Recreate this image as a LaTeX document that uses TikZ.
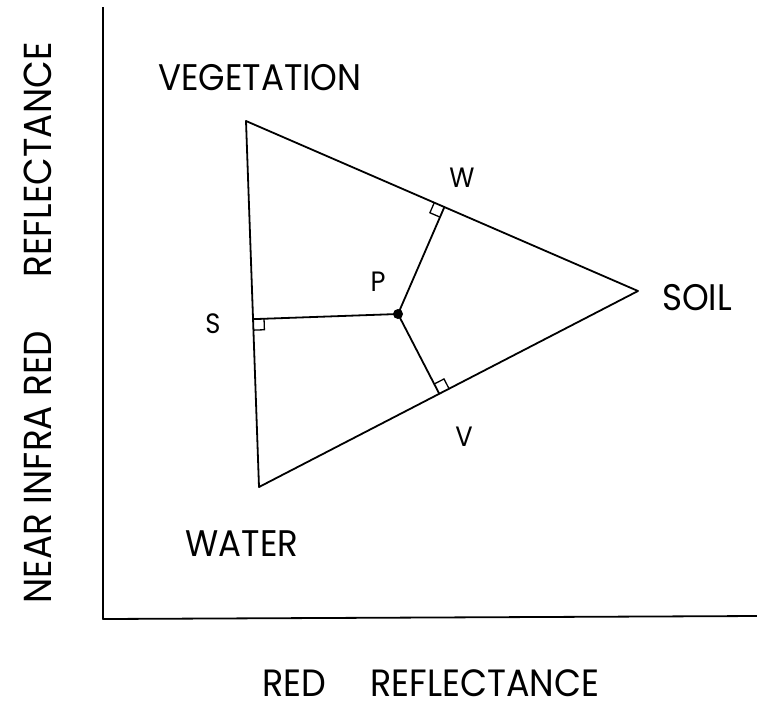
\documentclass[tikz,border=0pt]{standalone}
\usepackage{fontspec}
\setmainfont{Poppins}[FakeStretch=0.92]
\usetikzlibrary{calc}
\begin{document}
\begin{tikzpicture}[x=1pt,y=-1pt,
  ln/.style={line width=1.8pt, line join=round},
  big/.style={font=\fontsize{37}{37}\selectfont, inner sep=0pt},
  xlab/.style={font=\fontsize{38}{38}\selectfont, inner sep=0pt, text height=27pt, text depth=0pt, anchor=base},
  vbig/.style={font=\fontsize{39}{39}\selectfont, inner sep=0pt, rotate=90},
  small/.style={font=\fontsize{28}{28}\selectfont, inner sep=0pt},
  rt/.style={line width=1.3pt}]
\useasboundingbox (0,0) rectangle (757,710);
% axes
\coordinate (ytop) at (103,7);
\coordinate (orig) at (103,619);
\coordinate (xend) at (757,616);
\draw[ln] (ytop) -- (orig) -- (xend);
% triangle
\coordinate (veg) at (246,121);
\coordinate (soil) at (638,291);
\coordinate (wat) at (259,487);
\draw[ln] (veg) -- (soil) -- (wat) -- cycle;
% P and feet
\coordinate (P) at (398,314);
\coordinate (fw) at ($(veg)!(P)!(soil)$);
\coordinate (fv) at ($(soil)!(P)!(wat)$);
\coordinate (fs) at ($(veg)!(P)!(wat)$);
\draw[ln] (P) -- (fw);
\draw[ln] (P) -- (fv);
\draw[ln] (P) -- (fs);
\fill (P) circle (5);
% right-angle marks
\coordinate (wa) at ($(fw)!11pt!(veg)$);
\coordinate (wb) at ($(fw)!11pt!(P)$);
\draw[rt] (wa) -- ($(wa)+(wb)-(fw)$) -- (wb);
\coordinate (va) at ($(fv)!11pt!(soil)$);
\coordinate (vb) at ($(fv)!11pt!(P)$);
\draw[rt] (va) -- ($(va)+(vb)-(fv)$) -- (vb);
\coordinate (sa) at ($(fs)!11pt!(wat)$);
\coordinate (sb) at ($(fs)!11pt!(P)$);
\draw[rt] (sa) -- ($(sa)+(sb)-(fs)$) -- (sb);
% labels
\node[big] (lveg) at (260,78) {VEGETATION};
\node[big] (lsoil) at (697,298) {SOIL};
\node[big] (lwat) at (242,544) {WATER};
\node[small] (lw) at (462,178) {W};
\node[small] (lp) at (378,282) {P};
\node[small] (ls) at (213,324) {S};
\node[small] (lv) at (464,437) {V};
\node[xlab] (lxa) at (294,696) {RED};
\node[xlab] (lxb) at (485,696) {REFLECTANCE};
\node[vbig] (lya) at (38,467) {NEAR INFRA RED};
\node[vbig] (lyb) at (38,160) {REFLECTANCE};
\end{tikzpicture}
\end{document}
